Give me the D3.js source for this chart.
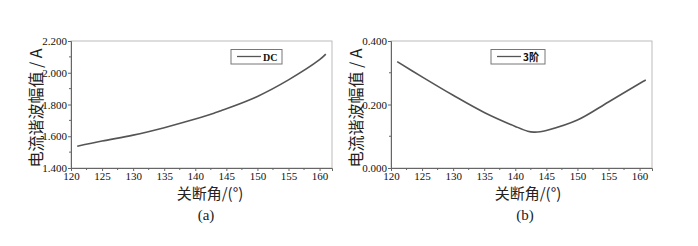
<!DOCTYPE html>
<html><head><meta charset="utf-8">
<script src="https://cdn.jsdelivr.net/npm/d3@7"></script>
<style>body{margin:0;background:#fff}svg{display:block}</style>
</head><body>
<svg id="c" width="698" height="246"></svg>
<script>
const angles = [121,125,130,135,140,142,143,144,145,150,155,160,161];
const dcValues = [1.537,1.570,1.607,1.654,1.708,1.732,1.745,1.759,1.773,1.851,1.955,2.082,2.117];
const h3Values = [0.335,0.287,0.229,0.175,0.131,0.116,0.113,0.114,0.118,0.151,0.208,0.266,0.277];
const xTicks = [120,125,130,135,140,145,150,155,160];
const yTicksA = [1.4,1.6,1.8,2.0,2.2];
const yTicksB = [0.0,0.2,0.4];

const svg = d3.select('#c');
const serif = "'Liberation Serif','Times New Roman',serif";
const cjk = "'Noto Sans CJK SC','Liberation Serif',serif";

function panel(o){
  const g = svg.append('g');
  const x = d3.scaleLinear().domain([120,162]).range([o.left, o.left+261]);
  const y = d3.scaleLinear().domain(o.yDomain).range([168,41]);
  g.append('rect').attr('x',o.left).attr('y',41).attr('width',261).attr('height',127)
    .attr('fill','none').attr('stroke','#bbb').attr('stroke-width',1);
  const xAxis = d3.axisBottom(x).tickValues(xTicks).tickSize(3).tickPadding(1).tickFormat(d3.format('d'));
  const gx = g.append('g').attr('transform','translate(0,168)').call(xAxis)
    .style('font-family',serif).style('font-size','11px');
  const minorX = d3.range(122.5,162,5);
  gx.selectAll('.minor').data(minorX).enter().append('line').attr('class','minor')
    .attr('x1',d=>x(d)).attr('x2',d=>x(d)).attr('y1',0).attr('y2',2).attr('stroke','#666');
  gx.select('.domain').attr('stroke','#666');
  gx.selectAll('.tick line').attr('stroke','#666');
  gx.selectAll('text').style('font-family',serif).style('font-size','11px').attr('fill','#111');
  const yAxis = d3.axisLeft(y).tickValues(o.yTicks).tickSize(3).tickPadding(1).tickFormat(d3.format('.3f'));
  const gy = g.append('g').attr('transform',`translate(${o.left},0)`).call(yAxis)
    .style('font-family',serif).style('font-size','11px');
  const minorY = o.yTicks.slice(0,-1).map((d,i)=>(d+o.yTicks[i+1])/2);
  gy.selectAll('.minor').data(minorY).enter().append('line').attr('class','minor')
    .attr('x1',0).attr('x2',-2).attr('y1',d=>y(d)).attr('y2',d=>y(d)).attr('stroke','#666');
  gy.select('.domain').attr('stroke','#666');
  gy.selectAll('.tick line').attr('stroke','#666');
  gy.selectAll('text').style('font-family',serif).style('font-size','11px').attr('fill','#111');
  const line = d3.line().x((d,i)=>x(angles[i])).y(d=>y(d)).curve(d3.curveCatmullRom.alpha(0.5));
  g.append('path').datum(o.values).attr('d',line).attr('fill','none')
    .attr('stroke','#555').attr('stroke-width',1.6);
  g.append('rect').attr('x',o.leg).attr('y',49.5).attr('width',o.legW).attr('height',14.5)
    .attr('fill','#fff').attr('stroke','#777').attr('stroke-width',1);
  g.append('line').attr('x1',o.leg+6).attr('x2',o.leg+30).attr('y1',56.5).attr('y2',56.5)
    .attr('stroke','#555').attr('stroke-width',1.3);
  g.append('text').attr('x',o.leg+32).attr('y',60.5).text(o.name)
    .style('font-family',o.nameFont).attr('font-weight','bold').style('font-size','10px').attr('fill','#111');
  g.append('text').attr('transform',`translate(${o.ylx},108) rotate(-90)`).attr('text-anchor','middle')
    .attr('dominant-baseline','central').style('font-family',cjk).style('font-size','16px').attr('fill','#222')
    .text('电流谐波幅值 / A');
  g.append('text').attr('x',o.xlx).attr('y',199).attr('text-anchor','middle')
    .style('font-family',cjk).style('font-size','15px').attr('fill','#222').text('关断角/(°)');
  g.append('text').attr('x',o.cap).attr('y',220).attr('text-anchor','middle')
    .style('font-family',serif).style('font-size','15px').attr('fill','#222').text(o.caption);
}

panel({left:71, yDomain:[1.4,2.2], yTicks:yTicksA, values:dcValues, leg:231, legW:51, name:'DC', nameFont:serif, ylx:35, xlx:210, cap:206, caption:'(a)'});
panel({left:391, yDomain:[0,0.4], yTicks:yTicksB, values:h3Values, leg:491, legW:54, name:'3阶', nameFont:cjk, ylx:355, xlx:528, cap:525, caption:'(b)'});
</script>
</body></html>
